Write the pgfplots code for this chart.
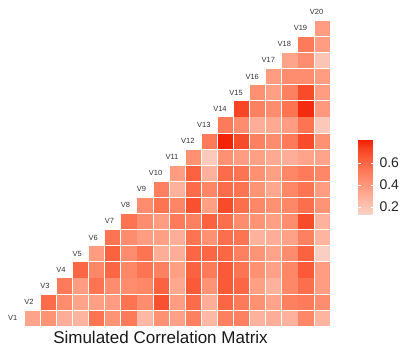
\documentclass[border=0pt]{standalone}
\usepackage{fontspec}
\setmainfont{Liberation Sans}
\usepackage{pgfplots}
\pgfplotsset{compat=1.18}
\begin{document}
\begin{tikzpicture}
\begin{axis}[
  at={(0pt,0pt)}, anchor=south west,
  x=16.1pt, y=16.1pt,
  xmin=-0.9907, xmax=23.978, ymin=-0.680, ymax=20.748,
  hide axis, clip=false,
  colormap={ggred}{rgb255(127pt)=(249,211,201) rgb255(245pt)=(254,186,167) rgb255(409pt)=(255,150,121) rgb255(614pt)=(251,100,65) rgb255(736pt)=(247,65,32) rgb255(818pt)=(242,26,0)},
  point meta min=0.127, point meta max=0.818,
  colorbar,
  colorbar style={
    at={(parent axis.south west)}, anchor=south west,
    xshift=349.5pt, yshift=130pt,
    width=16pt, height=76pt, scale only axis,
    axis line style={draw=none},
    ytick={0.2,0.4,0.6},
    tick align=inside, ytick pos=both, yticklabel pos=right,
    major tick length=3pt,
    tick style={draw=white, line width=0.6pt},
    yticklabel style={font=\fontsize{14}{16}\selectfont, text=black!85, xshift=2pt,
      /pgf/number format/.cd, fixed, precision=1, fixed zerofill, assume math mode=true},
  },
]
\addplot[scatter, only marks, mark=square*, mark size=7.1pt,
  scatter/use mapped color={draw=mapped color, fill=mapped color},
  point meta=\thisrow{v}]
  table[row sep=\\] {
x y v\\
1 1 0.35\\ 2 1 0.42\\ 3 1 0.30\\ 4 1 0.27\\ 5 1 0.55\\ 6 1 0.42\\ 7 1 0.52\\ 8 1 0.25\\ 9 1 0.43\\ 10 1 0.36\\ 11 1 0.50\\ 12 1 0.25\\ 13 1 0.50\\ 14 1 0.50\\ 15 1 0.28\\ 16 1 0.30\\ 17 1 0.28\\ 18 1 0.47\\ 19 1 0.27\\
2 2 0.58\\ 3 2 0.45\\ 4 2 0.35\\ 5 2 0.37\\ 6 2 0.38\\ 7 2 0.55\\ 8 2 0.45\\ 9 2 0.68\\ 10 2 0.38\\ 11 2 0.58\\ 12 2 0.30\\ 13 2 0.60\\ 14 2 0.52\\ 15 2 0.43\\ 16 2 0.35\\ 17 2 0.50\\ 18 2 0.52\\ 19 2 0.45\\
3 3 0.52\\ 4 3 0.38\\ 5 3 0.55\\ 6 3 0.45\\ 7 3 0.45\\ 8 3 0.47\\ 9 3 0.62\\ 10 3 0.33\\ 11 3 0.65\\ 12 3 0.42\\ 13 3 0.65\\ 14 3 0.60\\ 15 3 0.37\\ 16 3 0.28\\ 17 3 0.47\\ 18 3 0.57\\ 19 3 0.38\\
4 4 0.60\\ 5 4 0.47\\ 6 4 0.60\\ 7 4 0.47\\ 8 4 0.55\\ 9 4 0.50\\ 10 4 0.37\\ 11 4 0.62\\ 12 4 0.52\\ 13 4 0.65\\ 14 4 0.55\\ 15 4 0.43\\ 16 4 0.36\\ 17 4 0.47\\ 18 4 0.65\\ 19 4 0.38\\
5 5 0.38\\ 6 5 0.62\\ 7 5 0.45\\ 8 5 0.55\\ 9 5 0.30\\ 10 5 0.30\\ 11 5 0.60\\ 12 5 0.60\\ 13 5 0.60\\ 14 5 0.50\\ 15 5 0.42\\ 16 5 0.35\\ 17 5 0.45\\ 18 5 0.62\\ 19 5 0.15\\
6 6 0.55\\ 7 6 0.45\\ 8 6 0.38\\ 9 6 0.37\\ 10 6 0.30\\ 11 6 0.55\\ 12 6 0.43\\ 13 6 0.57\\ 14 6 0.55\\ 15 6 0.28\\ 16 6 0.30\\ 17 6 0.36\\ 18 6 0.50\\ 19 6 0.27\\
7 7 0.55\\ 8 7 0.45\\ 9 7 0.38\\ 10 7 0.52\\ 11 7 0.50\\ 12 7 0.62\\ 13 7 0.57\\ 14 7 0.45\\ 15 7 0.42\\ 16 7 0.37\\ 17 7 0.45\\ 18 7 0.70\\ 19 7 0.28\\
8 8 0.45\\ 9 8 0.55\\ 10 8 0.48\\ 11 8 0.68\\ 12 8 0.37\\ 13 8 0.70\\ 14 8 0.57\\ 15 8 0.47\\ 16 8 0.43\\ 17 8 0.47\\ 18 8 0.57\\ 19 8 0.42\\
9 9 0.50\\ 10 9 0.28\\ 11 9 0.58\\ 12 9 0.48\\ 13 9 0.58\\ 14 9 0.55\\ 15 9 0.42\\ 16 9 0.33\\ 17 9 0.47\\ 18 9 0.55\\ 19 9 0.38\\
10 10 0.38\\ 11 10 0.62\\ 12 10 0.28\\ 13 10 0.58\\ 14 10 0.55\\ 15 10 0.43\\ 16 10 0.37\\ 17 10 0.47\\ 18 10 0.52\\ 19 10 0.47\\
11 11 0.43\\ 12 11 0.17\\ 13 11 0.43\\ 14 11 0.38\\ 15 11 0.37\\ 16 11 0.32\\ 17 11 0.30\\ 18 11 0.35\\ 19 11 0.35\\
12 12 0.52\\ 13 12 0.80\\ 14 12 0.70\\ 15 12 0.50\\ 16 12 0.45\\ 17 12 0.52\\ 18 12 0.70\\ 19 12 0.43\\
13 13 0.52\\ 14 13 0.45\\ 15 13 0.30\\ 16 13 0.32\\ 17 13 0.38\\ 18 13 0.55\\ 19 13 0.18\\
14 14 0.72\\ 15 14 0.50\\ 16 14 0.45\\ 17 14 0.55\\ 18 14 0.78\\ 19 14 0.40\\
15 15 0.43\\ 16 15 0.37\\ 17 15 0.50\\ 18 15 0.70\\ 19 15 0.38\\
16 16 0.38\\ 17 16 0.45\\ 18 16 0.45\\ 19 16 0.38\\
17 17 0.35\\ 18 17 0.45\\ 19 17 0.20\\
18 18 0.52\\ 19 18 0.38\\
19 19 0.38\\
};
\begin{scope}[every node/.style={anchor=east, font=\fontsize{7.5}{9}\selectfont, text=black!80, inner sep=0pt}]
\node at (axis cs:0.1,1) {V1};
\node at (axis cs:1.1,2) {V2};
\node at (axis cs:2.1,3) {V3};
\node at (axis cs:3.1,4) {V4};
\node at (axis cs:4.1,5) {V5};
\node at (axis cs:5.1,6) {V6};
\node at (axis cs:6.1,7) {V7};
\node at (axis cs:7.1,8) {V8};
\node at (axis cs:8.1,9) {V9};
\node at (axis cs:9.1,10) {V10};
\node at (axis cs:10.1,11) {V11};
\node at (axis cs:11.1,12) {V12};
\node at (axis cs:12.1,13) {V13};
\node at (axis cs:13.1,14) {V14};
\node at (axis cs:14.1,15) {V15};
\node at (axis cs:15.1,16) {V16};
\node at (axis cs:16.1,17) {V17};
\node at (axis cs:17.1,18) {V18};
\node at (axis cs:18.1,19) {V19};
\node at (axis cs:19.1,20) {V20};
\end{scope}
\end{axis}
\node[anchor=base, font=\fontsize{17}{20}\selectfont, inner sep=0pt, text=black!90] at (160.5pt,1.7pt) {Simulated Correlation Matrix};
\pgfresetboundingbox
\path (0pt,0pt) rectangle (402pt,345pt);
\end{tikzpicture}
\end{document}
